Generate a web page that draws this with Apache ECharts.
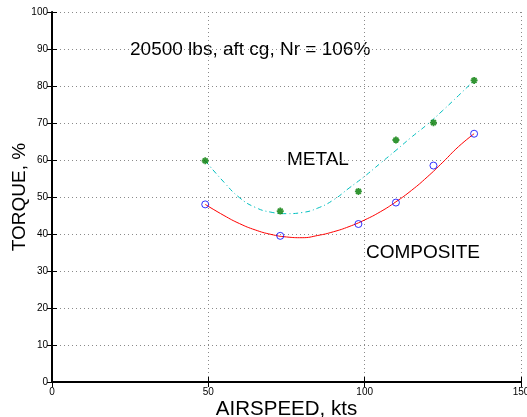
<!DOCTYPE html>
<html>
<head>
<meta charset="utf-8">
<script src="https://cdn.jsdelivr.net/npm/echarts@6/dist/echarts.min.js"></script>
<style>html,body{margin:0;padding:0;background:#fff}#c{width:527px;height:417px}</style>
</head>
<body>
<div id="c"></div>
<script>
// Measured points
const compositeX = [49, 73, 98, 110, 122, 135];
const compositeY = [48.0, 39.5, 42.7, 48.5, 58.5, 67.1];
const metalX = [49, 73, 98, 110, 122, 135];
const metalY = [59.8, 46.2, 51.5, 65.4, 70.1, 81.5];
// Fitted curves
const curveX = [49, 55, 60, 65, 70, 75, 80, 85, 90, 95, 100, 105, 110, 115, 120, 125, 130, 135];
const compositeFit = [48.0, 45.0, 42.8, 41.1, 39.9, 39.2, 39.0, 39.6, 40.6, 42.0, 43.8, 46.0, 48.7, 51.8, 55.4, 59.4, 63.6, 67.1];
const metalFit = [59.8, 54.0, 49.8, 47.2, 45.9, 45.5, 45.8, 47.0, 49.2, 52.4, 55.6, 59.1, 62.6, 66.2, 69.6, 73.4, 77.4, 81.5];
const xTicks = [0, 50, 100, 150];
const yTicks = [0, 10, 20, 30, 40, 50, 60, 70, 80, 90, 100];

const pair = (xs, ys) => xs.map((x, i) => [x, ys[i]]);
const font = 'Liberation Sans, Arial, Helvetica, sans-serif';
const chart = echarts.init(document.getElementById('c'), null, {renderer: 'canvas'});
const gridStyle = {show: true, lineStyle: {color: '#8a8a8a', width: 1, type: [1, 3]}};
const starPath = 'path://M0,-10L0,10M-10,0L10,0M-7,-7L7,7M-7,7L7,-7';

chart.setOption({
  animation: false,
  backgroundColor: '#fff',
  grid: {left: 52, right: 6, top: 12, bottom: 35, containLabel: false, outerBoundsMode: 'none'},
  xAxis: [{
    type: 'value', min: xTicks[0], max: xTicks[xTicks.length - 1], interval: 50,
    name: 'AIRSPEED, kts', nameLocation: 'middle', nameGap: 17, nameMoveOverlap: false,
    nameTextStyle: {fontFamily: font, fontSize: 20.5, color: '#000'},
    axisLine: {show: true, lineStyle: {color: '#000', width: 2}},
    axisTick: {show: true, inside: true, length: 5, lineStyle: {color: '#000'}},
    axisLabel: {fontFamily: font, fontSize: 10, color: '#000', margin: 5},
    splitLine: gridStyle
  }, {
    type: 'value', position: 'top', min: 0, max: 150, interval: 50,
    axisLine: {show: true, lineStyle: {color: '#000', width: 1}},
    axisTick: {show: true, inside: true, length: 5, lineStyle: {color: '#000'}},
    axisLabel: {show: false}, splitLine: {show: false}
  }],
  yAxis: [{
    type: 'value', min: yTicks[0], max: yTicks[yTicks.length - 1], interval: 10,
    name: 'TORQUE, %', nameLocation: 'middle', nameGap: 23, nameMoveOverlap: false,
    nameTextStyle: {fontFamily: font, fontSize: 19, color: '#000'},
    axisLine: {show: true, lineStyle: {color: '#000', width: 2}},
    axisTick: {show: true, inside: true, length: 5, lineStyle: {color: '#000'}},
    axisLabel: {fontFamily: font, fontSize: 10, color: '#000', margin: 4},
    splitLine: gridStyle
  }, {
    type: 'value', position: 'right', min: 0, max: 100, interval: 10,
    axisLine: {show: true, lineStyle: {color: '#000', width: 1}},
    axisTick: {show: true, inside: true, length: 5, lineStyle: {color: '#000'}},
    axisLabel: {show: false}, splitLine: {show: false}
  }],
  series: [{
    type: 'line', data: pair(curveX, compositeFit), smooth: true, showSymbol: false,
    lineStyle: {color: '#ff0000', width: 1}, z: 2
  }, {
    type: 'line', data: pair(curveX, metalFit), smooth: true, showSymbol: false,
    lineStyle: {color: '#00bfbf', width: 1, type: [5, 3, 1, 3]}, z: 2
  }, {
    type: 'scatter', data: pair(compositeX, compositeY), symbol: 'circle', symbolSize: 7,
    itemStyle: {color: 'rgba(0,0,0,0)', borderColor: '#0000ff', borderWidth: 1}, z: 3
  }, {
    type: 'scatter', data: pair(metalX, metalY), symbol: starPath, symbolSize: 7,
    itemStyle: {color: '#007a00', borderColor: '#007a00', borderWidth: 1.8}, z: 3
  }],
  graphic: [
    {type: 'text', x: 130, y: 50, style: {text: '20500 lbs, aft cg, Nr = 106%', font: '19px ' + font, fill: '#000', align: 'left', verticalAlign: 'middle'}},
    {type: 'text', x: 287, y: 160, style: {text: 'METAL', font: '19px ' + font, fill: '#000', align: 'left', verticalAlign: 'middle'}},
    {type: 'text', x: 366, y: 253, style: {text: 'COMPOSITE', font: '19px ' + font, fill: '#000', align: 'left', verticalAlign: 'middle'}}
  ]
});
</script>
</body>
</html>
